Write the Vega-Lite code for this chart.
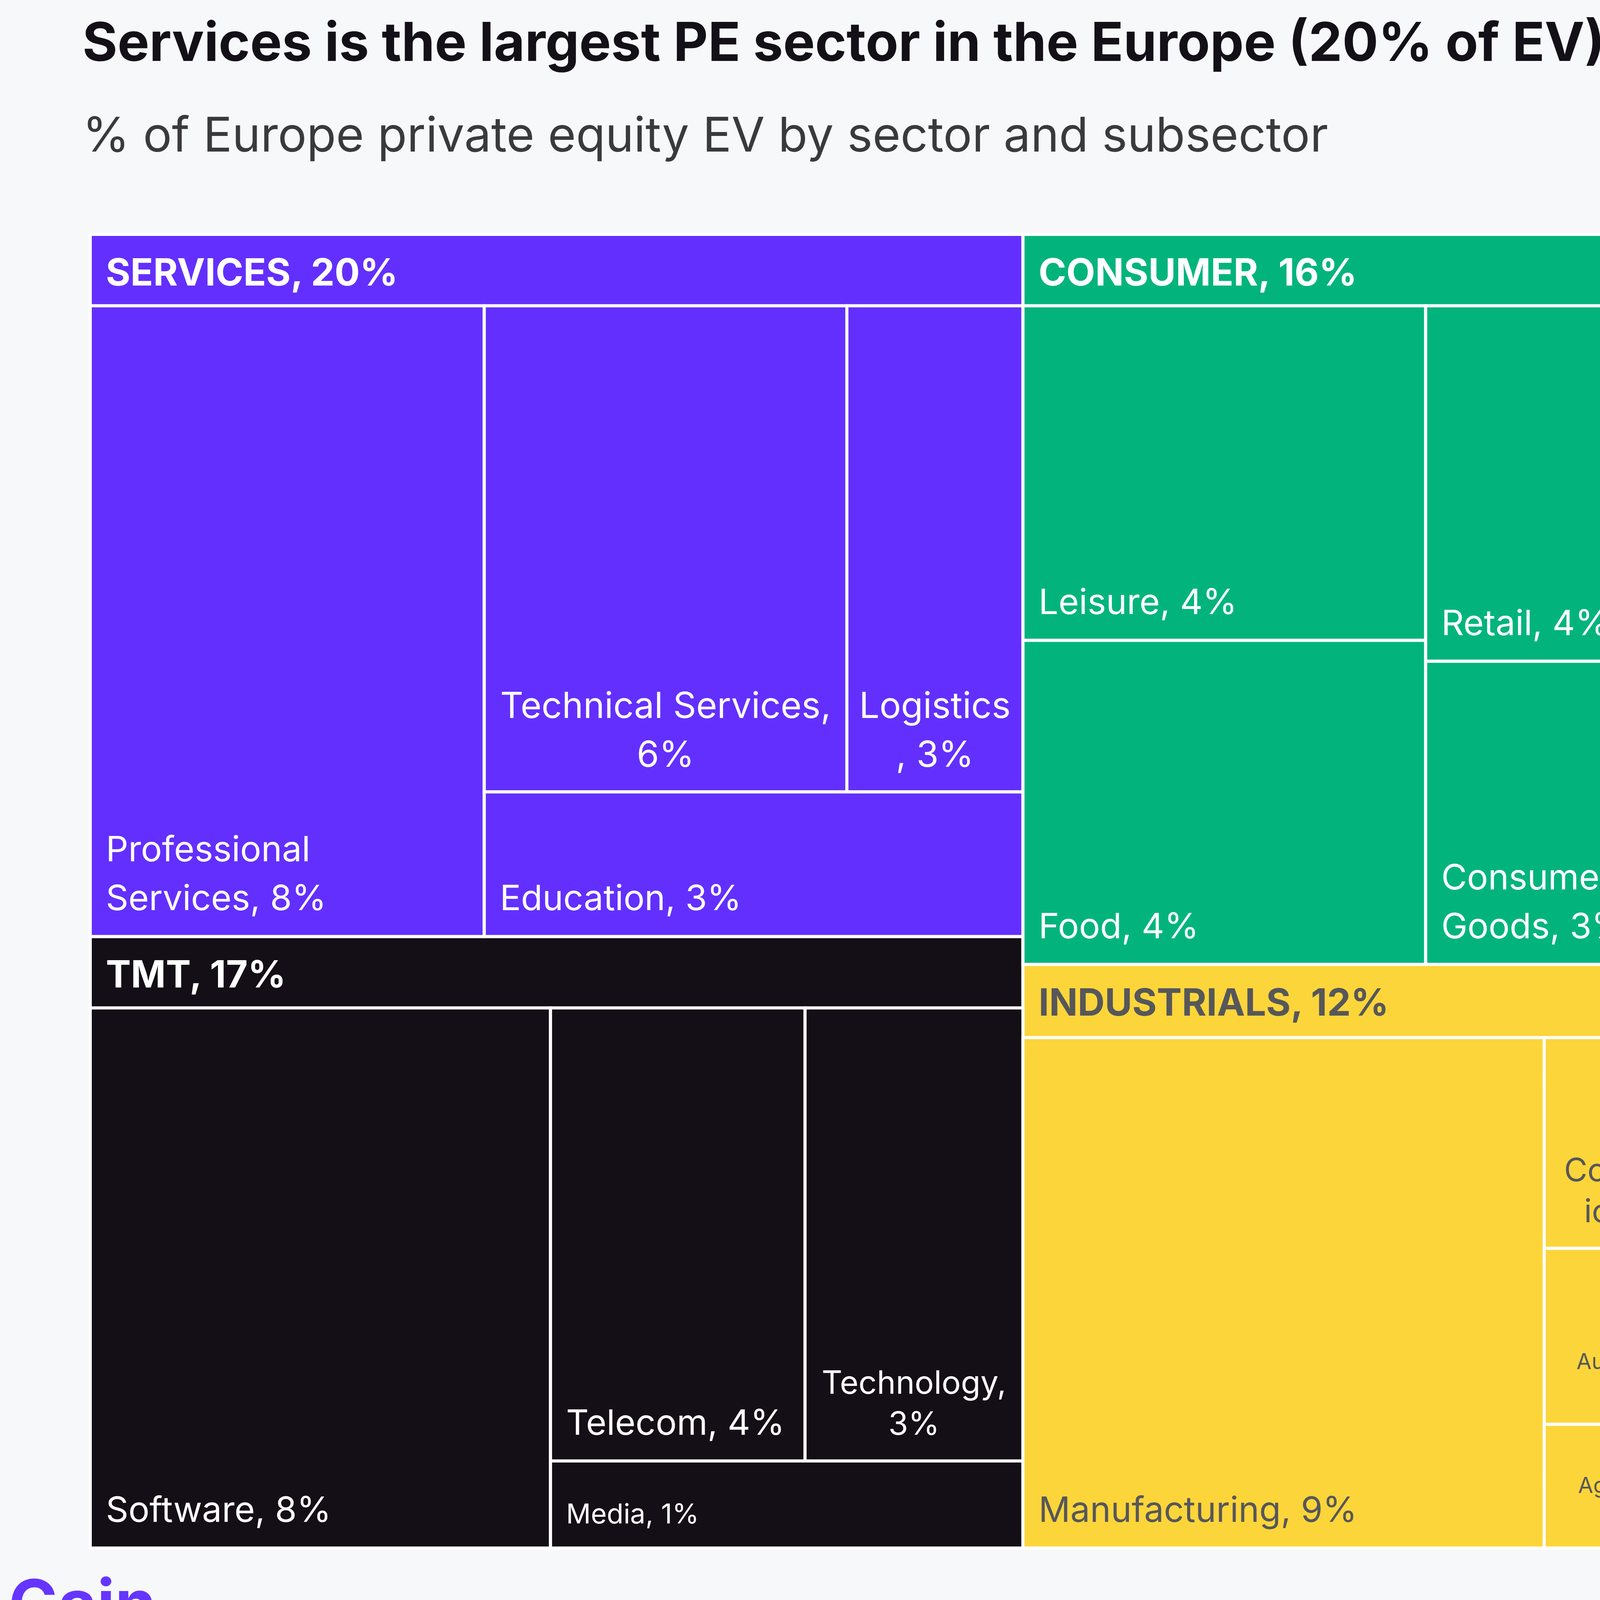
{
  "$schema": "https://vega.github.io/schema/vega-lite/v6.json",
  "width": 7000,
  "height": 4200,
  "autosize": {"type": "fit", "contains": "padding"},
  "padding": {"left": 22, "top": 46, "right": 298, "bottom": 0},
  "background": "#f7f8fa",
  "title": {
    "text": "Services is the largest PE sector in the Europe (20% of EV), followed by TMT (17% of EV)",
    "subtitle": "% of Europe private equity EV by sector and subsector",
    "anchor": "start",
    "frame": "group",
    "orient": "top",
    "font": "Inter",
    "fontSize": 137,
    "fontWeight": 700,
    "color": "#141017",
    "subtitleFont": "Inter",
    "subtitleFontSize": 123,
    "subtitleFontWeight": 400,
    "subtitleColor": "#3a3a3c",
    "subtitlePadding": 106,
    "offset": 181,
    "dx": -20
  },
  "datasets": {
    "sectors": [
      {"sector": "SERVICES", "value": 20, "label": "SERVICES, 20%", "x0": 0, "x1": 535, "y0": 0, "y1": 403},
      {"sector": "TMT", "value": 17, "label": "TMT, 17%", "x0": 0, "x1": 535, "y0": 403, "y1": 754},
      {"sector": "CONSUMER", "value": 16, "label": "CONSUMER, 16%", "x0": 535, "x1": 942, "y0": 0, "y1": 419},
      {"sector": "INDUSTRIALS", "value": 12, "label": "INDUSTRIALS, 12%", "x0": 535, "x1": 942, "y0": 419, "y1": 754},
      {"sector": "SCIENCE/HEALTH", "value": 11, "label": "SCIENCE/HEALTH, 11%", "x0": 942, "x1": 1204, "y0": 0, "y1": 438},
      {"sector": "ENERGY/MAT", "value": 10, "label": "ENERGY/MAT, 10%", "x0": 1204, "x1": 1449, "y0": 0, "y1": 438},
      {"sector": "INFRA", "value": 8, "label": "INFRA, 8%", "x0": 942, "x1": 1225, "y0": 438, "y1": 754},
      {"sector": "FINANCIALS", "value": 6, "label": "FINANCIALS, 6%", "x0": 1225, "x1": 1449, "y0": 438, "y1": 754}
    ],
    "cells": [
      {"sector": "SERVICES", "subsector": "Professional Services", "value": 8, "label": "Professional\nServices, 8%", "x0": 0, "x1": 226, "y0": 41, "y1": 403},
      {"sector": "SERVICES", "subsector": "Technical Services", "value": 6, "label": "Technical Services,\n6%", "x0": 226, "x1": 434, "y0": 41, "y1": 320},
      {"sector": "SERVICES", "subsector": "Logistics", "value": 3, "label": "Logistics\n, 3%", "x0": 434, "x1": 535, "y0": 41, "y1": 320},
      {"sector": "SERVICES", "subsector": "Education", "value": 3, "label": "Education, 3%", "x0": 226, "x1": 535, "y0": 320, "y1": 403},
      {"sector": "TMT", "subsector": "Software", "value": 8, "label": "Software, 8%", "x0": 0, "x1": 264, "y0": 444, "y1": 754},
      {"sector": "TMT", "subsector": "Telecom", "value": 4, "label": "Telecom, 4%", "x0": 264, "x1": 410, "y0": 444, "y1": 704},
      {"sector": "TMT", "subsector": "Technology", "value": 3, "label": "Technology,\n3%", "x0": 410, "x1": 535, "y0": 444, "y1": 704},
      {"sector": "TMT", "subsector": "Media", "value": 1, "label": "Media, 1%", "x0": 264, "x1": 535, "y0": 704, "y1": 754},
      {"sector": "CONSUMER", "subsector": "Leisure", "value": 4, "label": "Leisure, 4%", "x0": 535, "x1": 766, "y0": 41, "y1": 233},
      {"sector": "CONSUMER", "subsector": "Food", "value": 4, "label": "Food, 4%", "x0": 535, "x1": 766, "y0": 233, "y1": 419},
      {"sector": "CONSUMER", "subsector": "Retail", "value": 4, "label": "Retail, 4%", "x0": 766, "x1": 942, "y0": 41, "y1": 245},
      {"sector": "CONSUMER", "subsector": "Consumer Goods", "value": 3, "label": "Consumer\nGoods, 3%", "x0": 766, "x1": 942, "y0": 245, "y1": 419},
      {"sector": "INDUSTRIALS", "subsector": "Manufacturing", "value": 9, "label": "Manufacturing, 9%", "x0": 535, "x1": 834, "y0": 461, "y1": 754},
      {"sector": "INDUSTRIALS", "subsector": "Construction", "value": 1, "label": "Construct\nion, 1%", "x0": 834, "x1": 942, "y0": 461, "y1": 582},
      {"sector": "INDUSTRIALS", "subsector": "Automotive", "value": 1, "label": "Automotive,\n1%", "x0": 834, "x1": 942, "y0": 582, "y1": 683},
      {"sector": "INDUSTRIALS", "subsector": "Agriculture", "value": 1, "label": "Agriculture,\n1%", "x0": 834, "x1": 942, "y0": 683, "y1": 754},
      {"sector": "SCIENCE/HEALTH", "subsector": "Healthcare Services", "value": 4, "label": "Healthcare\nServices, 4%", "x0": 942, "x1": 1086, "y0": 41, "y1": 343},
      {"sector": "SCIENCE/HEALTH", "subsector": "Pharma", "value": 4, "label": "Pharma,\n4%", "x0": 1086, "x1": 1204, "y0": 41, "y1": 343},
      {"sector": "SCIENCE/HEALTH", "subsector": "MedTech", "value": 2, "label": "MedTech, 2%", "x0": 942, "x1": 1140, "y0": 343, "y1": 438},
      {"sector": "SCIENCE/HEALTH", "subsector": "Biotech", "value": 1, "label": "Biote\nch, 1%", "x0": 1140, "x1": 1204, "y0": 343, "y1": 438},
      {"sector": "ENERGY/MAT", "subsector": "Energy", "value": 7, "label": "Energy, 7%", "x0": 1204, "x1": 1449, "y0": 41, "y1": 325},
      {"sector": "ENERGY/MAT", "subsector": "Chemicals", "value": 3, "label": "Chemicals, 3%", "x0": 1204, "x1": 1427, "y0": 325, "y1": 438},
      {"sector": "ENERGY/MAT", "subsector": "Other", "value": 0.3, "label": "", "x0": 1427, "x1": 1449, "y0": 325, "y1": 438},
      {"sector": "INFRA", "subsector": "Infrastructure", "value": 8, "label": "Infrastructure, 8%", "x0": 942, "x1": 1225, "y0": 478, "y1": 754},
      {"sector": "FINANCIALS", "subsector": "Insurance", "value": 3, "label": "Insurance,\n3%", "x0": 1225, "x1": 1345, "y0": 478, "y1": 690},
      {"sector": "FINANCIALS", "subsector": "Asset Mgmt", "value": 2, "label": "Asset\nMgmt, 2%", "x0": 1345, "x1": 1449, "y0": 478, "y1": 690},
      {"sector": "FINANCIALS", "subsector": "Banking", "value": 1, "label": "Banking, 1%", "x0": 1225, "x1": 1449, "y0": 690, "y1": 754}
    ],
    "brand": [{"name": "Gain"}]
  },
  "layer": [
    {
      "data": {"name": "sectors"},
      "mark": {"type": "rect", "stroke": "#ffffff", "strokeWidth": 8},
      "encoding": {
        "x": {"field": "x0", "type": "quantitative", "scale": {"domain": [0, 1449], "nice": false, "zero": false}, "axis": null},
        "x2": {"field": "x1"},
        "y": {"field": "y0", "type": "quantitative", "scale": {"domain": [0, 754], "nice": false, "zero": false, "reverse": true}, "axis": null},
        "y2": {"field": "y1"},
        "color": {
          "field": "sector", "type": "nominal", "legend": null,
          "scale": {
            "domain": ["SERVICES", "TMT", "CONSUMER", "INDUSTRIALS", "SCIENCE/HEALTH", "ENERGY/MAT", "INFRA", "FINANCIALS"],
            "range": ["#632ffe", "#140f17", "#02b47c", "#fcd53a", "#70d2fc", "#56575b", "#b2b3b2", "#ae80fa"]
          }
        }
      }
    },
    {
      "data": {"name": "cells"},
      "mark": {"type": "rect", "stroke": "#ffffff", "strokeWidth": 8},
      "encoding": {
        "x": {"field": "x0", "type": "quantitative", "axis": null},
        "x2": {"field": "x1"},
        "y": {"field": "y0", "type": "quantitative", "axis": null},
        "y2": {"field": "y1"},
        "color": {"field": "sector", "type": "nominal", "legend": null}
      }
    },
    {
      "data": {"name": "sectors"},
      "mark": {"type": "text", "align": "left", "baseline": "middle", "font": "Inter", "fontSize": 96, "fontWeight": 700, "dx": 40, "dy": 102},
      "encoding": {
        "x": {"field": "x0", "type": "quantitative", "axis": null},
        "y": {"field": "y0", "type": "quantitative", "axis": null},
        "text": {"field": "label", "type": "nominal"},
        "color": {"condition": {"test": "datum.sector === 'INDUSTRIALS' || datum.sector === 'SCIENCE/HEALTH'", "value": "#56575a"}, "value": "#ffffff"}
      }
    },
    {
      "data": {"name": "cells"},
      "encoding": {
        "x": {"field": "x0", "type": "quantitative", "axis": null},
        "y": {"field": "y1", "type": "quantitative", "axis": null},
        "text": {"field": "label", "type": "nominal"},
        "color": {"condition": {"test": "datum.sector === 'INDUSTRIALS' || datum.sector === 'SCIENCE/HEALTH'", "value": "#56575a"}, "value": "#ffffff"}
      },
      "layer": [
        {
          "transform": [{"filter": {"field": "subsector", "oneOf": ["Education", "Software", "Telecom", "Leisure", "Food", "Retail", "Manufacturing", "MedTech", "Energy", "Chemicals", "Infrastructure", "Media", "Banking"]}}],
          "mark": {"type": "text", "align": "left", "baseline": "bottom", "font": "Inter", "fontWeight": 400, "dx": 40, "dy": -48},
          "encoding": {
            "size": {"condition": {"test": "datum.subsector === 'Media' || datum.subsector === 'Banking'", "value": 70}, "value": 90}
          }
        },
        {
          "transform": [{"filter": {"field": "subsector", "oneOf": ["Professional Services", "Consumer Goods"]}}],
          "mark": {"type": "text", "align": "left", "baseline": "bottom", "font": "Inter", "fontWeight": 400, "fontSize": 90, "lineHeight": 125, "lineBreak": "\n", "dx": 40, "dy": -173}
        }
      ]
    },
    {
      "data": {"name": "cells"},
      "transform": [
        {"filter": {"field": "subsector", "oneOf": ["Technical Services", "Logistics", "Healthcare Services", "Pharma", "Technology", "Construction", "Biotech", "Insurance", "Asset Mgmt", "Automotive", "Agriculture"]}},
        {"fold": ["x0", "x1"], "as": ["edge", "xe"]},
        {"aggregate": [{"op": "mean", "field": "xe", "as": "xm"}], "groupby": ["sector", "subsector", "label", "y1"]}
      ],
      "encoding": {
        "x": {"field": "xm", "type": "quantitative", "axis": null},
        "y": {"field": "y1", "type": "quantitative", "axis": null},
        "text": {"field": "label", "type": "nominal"},
        "color": {"condition": {"test": "datum.sector === 'INDUSTRIALS' || datum.sector === 'SCIENCE/HEALTH'", "value": "#56575a"}, "value": "#ffffff"}
      },
      "layer": [
        {
          "transform": [{"filter": {"field": "subsector", "oneOf": ["Technical Services", "Logistics", "Healthcare Services", "Pharma"]}}],
          "mark": {"type": "text", "align": "center", "baseline": "bottom", "font": "Inter", "fontSize": 92, "lineHeight": 125, "lineBreak": "\n", "dy": -170}
        },
        {
          "transform": [{"filter": {"field": "subsector", "oneOf": ["Technology", "Construction"]}}],
          "mark": {"type": "text", "align": "center", "baseline": "bottom", "font": "Inter", "fontSize": 82, "lineHeight": 105, "lineBreak": "\n", "dy": -155}
        },
        {
          "transform": [{"filter": {"field": "subsector", "oneOf": ["Biotech", "Insurance", "Asset Mgmt"]}}],
          "mark": {"type": "text", "align": "center", "baseline": "bottom", "font": "Inter", "fontSize": 69, "lineHeight": 94, "lineBreak": "\n", "dy": -148}
        },
        {
          "transform": [{"filter": {"field": "subsector", "oneOf": ["Automotive", "Agriculture"]}}],
          "mark": {"type": "text", "align": "center", "baseline": "bottom", "font": "Inter", "fontSize": 56, "lineHeight": 84, "lineBreak": "\n", "dy": -129}
        }
      ]
    },
    {
      "data": {"name": "brand"},
      "mark": {"type": "text", "align": "left", "baseline": "alphabetic", "font": "Inter", "fontSize": 170, "fontWeight": 700, "color": "#6535ff", "dx": -209, "dy": 203},
      "encoding": {
        "x": {"datum": 0, "type": "quantitative", "axis": null},
        "y": {"datum": 754, "type": "quantitative", "axis": null},
        "text": {"field": "name", "type": "nominal"}
      }
    }
  ],
  "config": {"view": {"stroke": null}}
}
